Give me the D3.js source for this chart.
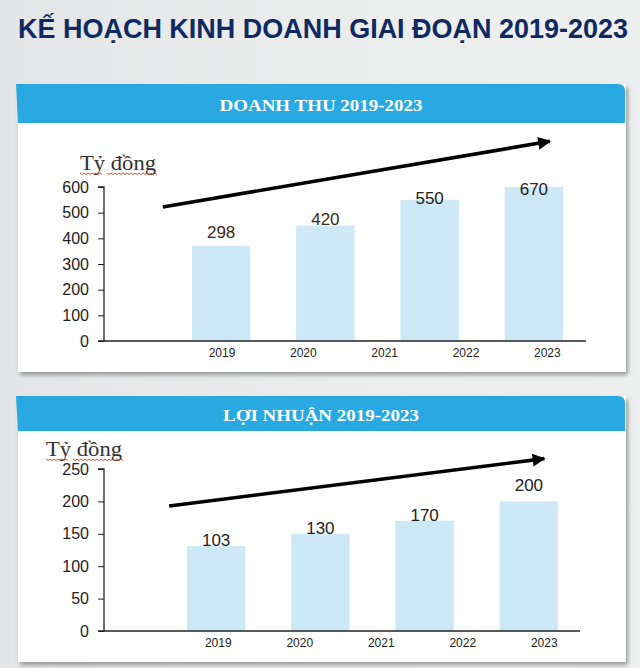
<!DOCTYPE html>
<html><head><meta charset="utf-8">
<script src="https://cdn.jsdelivr.net/npm/d3@7"></script>
<style>html,body{margin:0;padding:0;background:#e9eaeb;}svg{display:block;}</style>
</head><body>
<script>
// ---- data ----
const pageTitle = "KẾ HOẠCH KINH DOANH GIAI ĐOẠN 2019-2023";
const unitLabel = "Tỷ đồng";
const yearLabels = ["2019", "2020", "2021", "2022", "2023"];

const revenueTitle = "DOANH THU 2019-2023";
const revenueTicks = [0, 100, 200, 300, 400, 500, 600];
const revenueBarKeys = ["2019", "2020", "2022", "2023"];
const revenueBars = [370, 450, 550, 600];       // bar heights as drawn
const revenueLabels = ["298", "420", "550", "670"]; // printed values

const profitTitle = "LỢI NHUẬN 2019-2023";
const profitTicks = [0, 50, 100, 150, 200, 250];
const profitBarKeys = ["2019", "2020", "2022", "2023"];
const profitBars = [131, 150, 170, 200];
const profitLabels = ["103", "130", "170", "200"];

// ---- drawing ----
const W = 640, H = 668;
const svg = d3.select("body").append("svg").attr("width", W).attr("height", H);
const defs = svg.append("defs");
const bg = defs.append("linearGradient").attr("id", "bg").attr("x1", 0).attr("x2", 1).attr("y1", 0).attr("y2", 0);
bg.append("stop").attr("offset", 0).attr("stop-color", "#e4e5e6");
bg.append("stop").attr("offset", 0.5).attr("stop-color", "#ebecec");
bg.append("stop").attr("offset", 1).attr("stop-color", "#eeefef");
const sh = defs.append("filter").attr("id", "sh").attr("x", -0.05).attr("y", -0.05).attr("width", 1.1).attr("height", 1.15);
sh.append("feDropShadow").attr("dx", 2).attr("dy", 3).attr("stdDeviation", 2).attr("flood-color", "#555").attr("flood-opacity", 0.55);
const mk = defs.append("marker").attr("id", "arr").attr("viewBox", "0 0 10 10").attr("refX", 9).attr("refY", 5)
  .attr("markerWidth", 4.2).attr("markerHeight", 3.6).attr("orient", "auto").attr("markerUnits", "strokeWidth");
mk.append("path").attr("d", "M0,0 L10,5 L0,10 Z").attr("fill", "#000");

svg.append("rect").attr("width", W).attr("height", H).attr("fill", "url(#bg)");

svg.append("text").attr("x", 18).attr("y", 38).text(pageTitle)
  .attr("font-family", "Arial, 'Liberation Sans', sans-serif").attr("font-weight", "bold")
  .attr("font-size", 27).attr("fill", "#0f2a62")
  .attr("textLength", 610).attr("lengthAdjust", "spacingAndGlyphs");

function panel(cfg) {
  const g = svg.append("g");
  // body
  g.append("rect").attr("x", 18).attr("y", cfg.headY).attr("width", 608).attr("height", cfg.bodyBottom - cfg.headY)
    .attr("fill", "#fff").attr("filter", "url(#sh)");
  // header with rounded top-right corner
  const hx0 = 16, hx1 = 625, hy0 = cfg.headY, hy1 = cfg.headBottom;
  g.append("path").attr("d", `M${hx0},${hy0} L${hx1 - 7},${hy0} Q${hx1},${hy0} ${hx1},${hy0 + 7} L${hx1},${hy1} L${hx0 + 2},${hy1} Z`)
    .attr("fill", "#29a9e1");
  g.append("text").attr("x", 321).attr("y", cfg.titleY).attr("text-anchor", "middle").text(cfg.title)
    .attr("font-family", "'Liberation Serif', 'DejaVu Serif', serif").attr("font-weight", "bold")
    .attr("font-size", 17).attr("fill", "#fff")
    .attr("textLength", cfg.titleW).attr("lengthAdjust", "spacingAndGlyphs");

  // unit label with wavy underline
  g.append("text").attr("x", cfg.unitX).attr("y", cfg.unitY).text(unitLabel)
    .attr("font-family", "'Liberation Serif', 'Times New Roman', serif").attr("font-size", 20).attr("fill", "#333")
    .attr("textLength", 76).attr("lengthAdjust", "spacingAndGlyphs");
  const wave = (x0, x1, yy) => {
    let d = `M${x0},${yy}`;
    for (let x = x0, k = 0; x < x1; x += 2, k++) d += ` L${x + 2},${yy + (k % 2 ? 0 : 1.5)}`;
    return d;
  };
  g.append("path").attr("d", wave(cfg.unitX, cfg.unitX + 21, cfg.unitY + 3) + " " + wave(cfg.unitX + 27, cfg.unitX + 77, cfg.unitY + 3))
    .attr("fill", "none").attr("stroke", "#e0352b").attr("stroke-width", 0.9);

  const y = d3.scaleLinear().domain([0, d3.max(cfg.ticks)]).range([cfg.y0, cfg.yTop]);
  const xb = d3.scaleBand().domain(cfg.barKeys).range([cfg.barR0, cfg.barR0 + 417]).paddingInner(0.44).paddingOuter(0.22);
  const xl = d3.scalePoint().domain(["", ...yearLabels]).range(cfg.labelRange).padding(0.5);

  // bars
  g.selectAll(".bar").data(cfg.bars).join("rect")
    .attr("x", (d, i) => xb(cfg.barKeys[i])).attr("width", xb.bandwidth())
    .attr("y", d => y(d)).attr("height", d => y(0) - y(d)).attr("fill", "#cde9f8");

  // y axis
  const ya = g.append("g").attr("transform", `translate(${cfg.axisX},0)`)
    .call(d3.axisLeft(y).tickValues(cfg.ticks).tickSize(6).tickPadding(9));
  ya.select(".domain").attr("stroke", "#222").attr("stroke-width", 1.3).attr("d", `M-6,${y(d3.max(cfg.ticks))}H0V${y(0)}H-6`);
  ya.selectAll(".tick line").attr("stroke", "#222");
  ya.selectAll(".tick text").attr("font-family", "Arial, 'Liberation Sans', sans-serif").attr("font-size", 16).attr("fill", "#222");

  // x axis line
  g.append("line").attr("x1", cfg.axisX).attr("x2", cfg.axisEnd).attr("y1", y(0)).attr("y2", y(0))
    .attr("stroke", "#222").attr("stroke-width", 1.3);
  g.selectAll(".xl").data(yearLabels).join("text")
    .attr("x", d => xl(d)).attr("y", y(0) + 16).attr("text-anchor", "middle").text(d => d)
    .attr("font-family", "Arial, 'Liberation Sans', sans-serif").attr("font-size", 12).attr("fill", "#222");

  // value labels
  g.selectAll(".vl").data(cfg.labels).join("text")
    .attr("x", (d, i) => xb(cfg.barKeys[i]) + xb.bandwidth() / 2)
    .attr("y", (d, i) => y(cfg.bars[i]) + cfg.labelDy[i])
    .attr("text-anchor", "middle").text(d => d)
    .attr("font-family", "Arial, 'Liberation Sans', sans-serif").attr("font-size", 17)
    .attr("fill", (d, i) => cfg.labelColors[i]);

  // trend arrow (plot-fraction x, value y)
  const fx = t => cfg.axisX + t * (cfg.axisEnd - cfg.axisX);
  g.append("line").attr("x1", fx(cfg.arrow[0][0])).attr("y1", y(cfg.arrow[0][1]))
    .attr("x2", fx(cfg.arrow[1][0])).attr("y2", y(cfg.arrow[1][1]))
    .attr("stroke", "#000").attr("stroke-width", 3.6).attr("marker-end", "url(#arr)");
}

panel({
  headY: 84, headBottom: 123, bodyBottom: 372, title: revenueTitle, titleY: 111, titleW: 203,
  unitX: 80, unitY: 170, ticks: revenueTicks, y0: 341, yTop: 187, axisX: 104, axisEnd: 586,
  barKeys: revenueBarKeys, bars: revenueBars, labels: revenueLabels, barR0: 169,
  labelRange: [100, 588], labelDy: [-8, -1, 4, 8], labelColors: ["#3a2a1c", "#3a2a1c", "#222", "#222"],
  arrow: [[0.122, 522], [0.925, 778]]
});
panel({
  headY: 396, headBottom: 431, bodyBottom: 662, title: profitTitle, titleY: 421, titleW: 196,
  unitX: 46, unitY: 456, ticks: profitTicks, y0: 631, yTop: 469, axisX: 104, axisEnd: 580,
  barKeys: profitBarKeys, bars: profitBars, labels: profitLabels, barR0: 164,
  labelRange: [96, 585], labelDy: [0, 0, 0, -10], labelColors: ["#222", "#222", "#222", "#222"],
  arrow: [[0.137, 193], [0.925, 266]]
});
</script>
</body></html>
